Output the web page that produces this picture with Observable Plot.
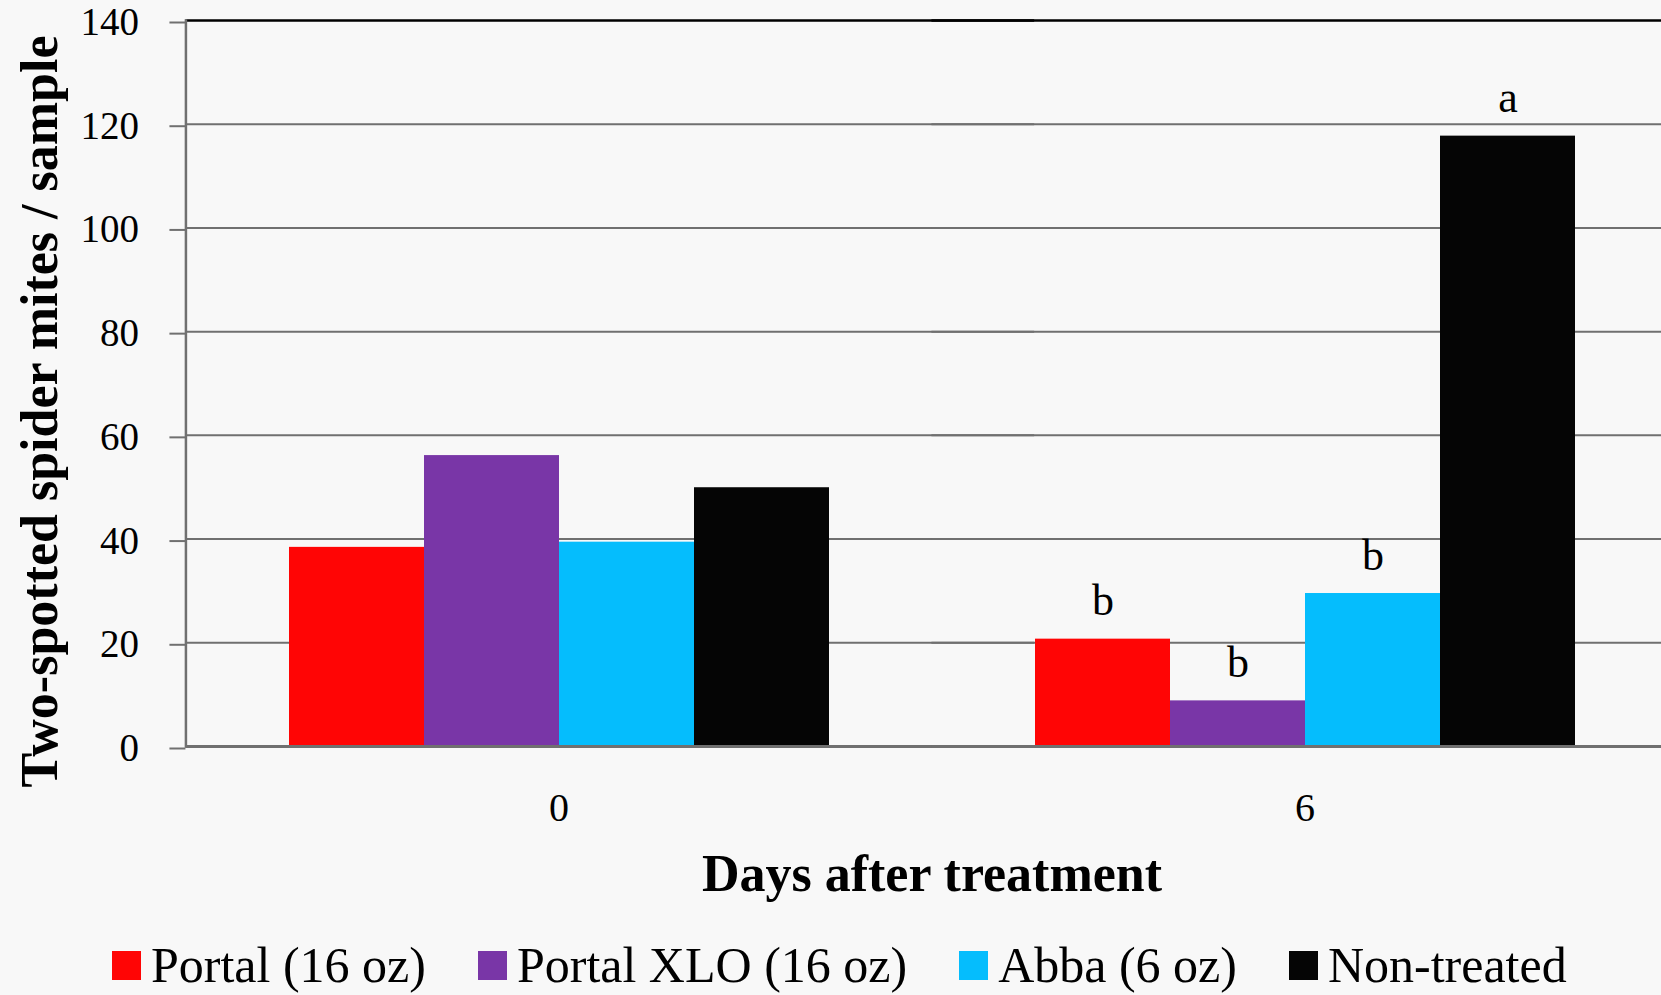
<!DOCTYPE html>
<html><head><meta charset="utf-8">
<script src="https://cdn.jsdelivr.net/npm/d3@7"></script>
<script src="https://cdn.jsdelivr.net/npm/@observablehq/plot@0.6"></script>
<style>
html,body{margin:0;padding:0;background:#f8f8f8;}
#chart{width:1661px;font-family:"Liberation Serif",serif;}
.lg-swatches{margin-left:112px;margin-top:26px;font-family:"Liberation Serif",serif !important;font-size:50px !important;line-height:1.1;color:#000;}
.lg-swatch{margin-right:52px !important;}
.lg-swatch > svg{margin-right:10px !important;}
</style></head><body><div id="chart"></div>
<script>
const days = ["0", "6"];
const treatments = ["Portal (16 oz)", "Portal XLO (16 oz)", "Abba (6 oz)", "Non-treated"];
const colors = ["#ff0505", "#7936a7", "#05bdfd", "#050505"];
const day0Values = [38.4, 56.1, 39.4, 49.9];
const day6Values = [20.7, 8.8, 29.5, 117.7];
const day6Letters = ["b", "b", "b", "a"];
const yTicks = [0, 20, 40, 60, 80, 100, 120, 140];
const xTitle = "Days after treatment";
const yTitle = "Two-spotted spider mites / sample";

const data = [];
treatments.forEach((t, i) => data.push({day: days[0], treatment: t, value: day0Values[i], letter: ""}));
treatments.forEach((t, i) => data.push({day: days[1], treatment: t, value: day6Values[i], letter: day6Letters[i]}));

// layout
const W = 1661, H = 912, mL = 185, mR = -16, mT = 20, mB = 166;
const padIn = 0.275, padOut = 0.1375;
const step = (W - mL - mR) / days.length;
const outer = step * padOut;      // px from plot left edge to first facet
const gapPx = step * padIn;       // px between facets

const plot = Plot.plot({
  width: W,
  height: H,
  marginTop: mT,
  marginLeft: mL,
  marginRight: mR,
  marginBottom: mB,
  style: {fontFamily: "'Liberation Serif', serif", background: "transparent", color: "#000"},
  fx: {domain: days, paddingInner: padIn, paddingOuter: padOut, label: null},
  x: {domain: treatments, padding: 0, axis: null},
  y: {domain: [0, 140], axis: null},
  color: {domain: treatments, range: colors},
  marks: [
    Plot.ruleY(yTicks.filter(v => v > 0 && v < 140), {stroke: "#707070", strokeWidth: 2, insetLeft: -outer, insetRight: -gapPx}),
    Plot.ruleY([140], {stroke: "#000", strokeWidth: 2.5, insetLeft: -outer, insetRight: -gapPx}),
    Plot.barY(data, {fx: "day", x: "treatment", y: "value", fill: "treatment"}),
    Plot.ruleY([0], {stroke: "#707070", strokeWidth: 3, insetLeft: -outer, insetRight: -gapPx}),
    Plot.axisY(yTicks, {anchor: "left", facetAnchor: "left", dx: -outer, dy: 2, tickSize: 16, tickPadding: 31, fontSize: 39, stroke: "#707070", strokeWidth: 2, fill: "#000", label: null}),
    Plot.frame({anchor: "left", facetAnchor: "left", dx: -outer, stroke: "#707070", strokeWidth: 2.5}),
    Plot.axisFx({anchor: "bottom", tickSize: 0, tickPadding: 46, fontSize: 40, fill: "#000", label: null}),
    Plot.text(data.filter(d => d.letter), {fx: "day", x: "treatment", y: "value", text: "letter", dy: -38, fontSize: 44, fill: "#000"}),
    Plot.text([xTitle], {facet: "super", text: d => d, frameAnchor: "bottom", textAnchor: "middle", lineAnchor: "middle", dy: 128, fontSize: 52, fontWeight: "bold", fill: "#000"}),
    Plot.text([yTitle], {facet: "super", text: d => d, frameAnchor: "left", textAnchor: "middle", lineAnchor: "middle", rotate: -90, dx: -(146 + outer), dy: 28, fontSize: 52, fontWeight: "bold", fill: "#000"})
  ]
});
document.getElementById("chart").appendChild(plot);
const legend = plot.legend("color", {swatchSize: 29, className: "lg"});
document.getElementById("chart").appendChild(legend);
</script>
</body></html>
